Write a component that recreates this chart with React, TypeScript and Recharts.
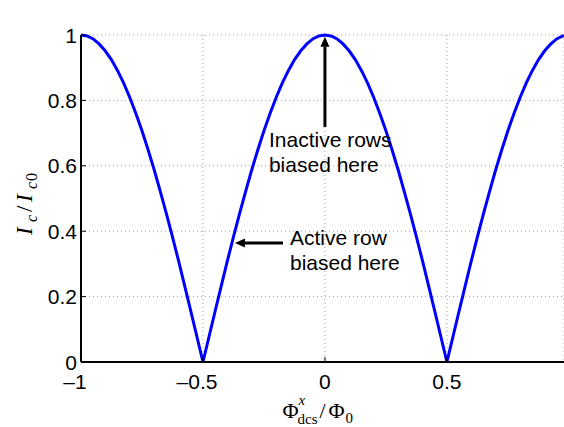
import React from 'react';
import { LineChart, Line, XAxis, YAxis, CartesianGrid, ReferenceLine } from 'recharts';

// Flux values (Phi_dcs^x / Phi_0) and normalised critical current
const fluxValues = [
  -1, -0.975, -0.95, -0.925, -0.9, -0.875, -0.85, -0.825, -0.8, -0.775,
  -0.75, -0.725, -0.7, -0.675, -0.65, -0.625, -0.6, -0.575, -0.55, -0.525,
  -0.5, -0.475, -0.45, -0.425, -0.4, -0.375, -0.35, -0.325, -0.3, -0.275,
  -0.25, -0.225, -0.2, -0.175, -0.15, -0.125, -0.1, -0.075, -0.05, -0.025,
  0, 0.025, 0.05, 0.075, 0.1, 0.125, 0.15, 0.175, 0.2, 0.225,
  0.25, 0.275, 0.3, 0.325, 0.35, 0.375, 0.4, 0.425, 0.45, 0.475,
  0.5, 0.525, 0.55, 0.575, 0.6, 0.625, 0.65, 0.675, 0.7, 0.725,
  0.75, 0.775, 0.8, 0.825, 0.85, 0.875, 0.9, 0.925, 0.95, 0.975, 0.98,
];
const currentValues = [
  1, 0.997, 0.988, 0.972, 0.951, 0.924, 0.891, 0.853, 0.809, 0.76,
  0.707, 0.649, 0.588, 0.522, 0.454, 0.383, 0.309, 0.233, 0.156, 0.078,
  0, 0.078, 0.156, 0.233, 0.309, 0.383, 0.454, 0.522, 0.588, 0.649,
  0.707, 0.76, 0.809, 0.853, 0.891, 0.924, 0.951, 0.972, 0.988, 0.997,
  1, 0.997, 0.988, 0.972, 0.951, 0.924, 0.891, 0.853, 0.809, 0.76,
  0.707, 0.649, 0.588, 0.522, 0.454, 0.383, 0.309, 0.233, 0.156, 0.078,
  0, 0.078, 0.156, 0.233, 0.309, 0.383, 0.454, 0.522, 0.588, 0.649,
  0.707, 0.76, 0.809, 0.853, 0.891, 0.924, 0.951, 0.972, 0.988, 0.997, 0.998,
];
const xTicks = [-1, -0.5, 0, 0.5];
const yTicks = [0, 0.2, 0.4, 0.6, 0.8, 1];
const titleText = 'low β dc SQUID modulation curve';
const inactiveArrow = [{ x: 0, y: 0.719 }, { x: 0, y: 0.995 }];
const activeArrow = [{ x: -0.172, y: 0.364 }, { x: -0.369, y: 0.364 }];
const inactiveLabel = ['Inactive rows', 'biased here'];
const activeLabel = ['Active row', 'biased here'];

const data = fluxValues.map((x, i) => ({ x, ic: currentValues[i] }));

const SANS = '"Liberation Sans", Arial, Helvetica, sans-serif';
const SERIF = '"Liberation Serif", "Times New Roman", serif';

const XTick = (props: any) => {
  const { x, y, payload } = props;
  const v = payload.value as number;
  const label = v < 0 ? '–' + String(Math.abs(v)) : String(v);
  return (
    <g>
      <line x1={x} y1={y} x2={x} y2={y - 5} stroke="#000" strokeWidth={1} />
      <text x={x + (v < 0 ? -6 : 0)} y={y + 27} textAnchor="middle" fontFamily={SANS} fontSize={21} fill="#000">
        {label}
      </text>
    </g>
  );
};

const YTick = (props: any) => {
  const { x, y, payload } = props;
  return (
    <g>
      <line x1={x} y1={y} x2={x + 5} y2={y} stroke="#000" strokeWidth={1} />
      <text x={x - 4} y={y + 7.5} textAnchor="end" fontFamily={SANS} fontSize={21} fill="#000">
        {String(payload.value)}
      </text>
    </g>
  );
};

const Arrow = (lines: string[], textDx: number, textDy: number) => (props: any) => {
  const { x1, y1, x2, y2 } = props;
  const dx = x2 - x1;
  const dy = y2 - y1;
  const len = Math.sqrt(dx * dx + dy * dy) || 1;
  const ux = dx / len;
  const uy = dy / len;
  const headL = 10;
  const headW = 4.5;
  const bx = x2 - ux * headL;
  const by = y2 - uy * headL;
  const px = -uy;
  const py = ux;
  return (
    <g>
      <line x1={x1} y1={y1} x2={bx} y2={by} stroke="#000" strokeWidth={3} />
      <polygon
        points={`${x2},${y2} ${bx + px * headW},${by + py * headW} ${bx - px * headW},${by - py * headW}`}
        fill="#000"
      />
      {lines.map((t, i) => (
        <text key={i} x={x1 + textDx} y={y1 + textDy + i * 25} fontFamily={SANS} fontSize={21} fill="#000">
          {t}
        </text>
      ))}
    </g>
  );
};

const XLabel = (props: any) => {
  const vb = props.viewBox || { x: 81, width: 483 };
  const sx = vb.x + vb.width / 2 - 40;
  return (
    <g fontFamily={SERIF} fill="#000">
      <text x={sx} y={418} fontSize={22}>Φ</text>
      <text x={sx + 16} y={405} fontSize={15} fontStyle="italic">x</text>
      <text x={sx + 15} y={424} fontSize={15}>dcs</text>
      <text x={sx + 37} y={418} fontSize={22}>/</text>
      <text x={sx + 46} y={418} fontSize={22}>Φ</text>
      <text x={sx + 63} y={423} fontSize={15}>0</text>
    </g>
  );
};

const YLabel = () => (
  <g transform="translate(32,235) rotate(-90)" fontFamily={SERIF} fill="#000">
    <text x={0} y={0} fontSize={23} fontStyle="italic">I</text>
    <text x={13} y={5} fontSize={16} fontStyle="italic">c</text>
    <text x={23} y={0} fontSize={23}>/</text>
    <text x={33} y={0} fontSize={23} fontStyle="italic">I</text>
    <text x={46} y={5} fontSize={16} fontStyle="italic">c</text>
    <text x={54} y={5} fontSize={16}>0</text>
  </g>
);

const TitleLabel = () => (
  <text x={325} y={19} textAnchor="middle" fontFamily={SANS} fontSize={18} fill="#000">
    {titleText}
  </text>
);

export default function App() {
  return (
    <div style={{ position: 'absolute', left: 0, top: 0, width: 564, height: 427, background: '#fff' }}>
      <LineChart width={564} height={427} data={data} margin={{ top: 35, right: 0, bottom: 0, left: 0 }}>
        <CartesianGrid stroke="#a0a0a0" strokeDasharray="1 3" strokeWidth={1} />
        <XAxis
          dataKey="x"
          type="number"
          domain={[-1, 0.98]}
          ticks={xTicks}
          allowDataOverflow
          height={65}
          tickLine={false}
          tickSize={0}
          tickMargin={0}
          axisLine={{ stroke: '#000', strokeWidth: 2 }}
          tick={<XTick />}
          interval={0}
          label={{ content: <XLabel /> }}
        />
        <XAxis
          xAxisId="top"
          dataKey="x"
          type="number"
          orientation="top"
          domain={[-1, 0.98]}
          allowDataOverflow
          height={0}
          tick={false}
          tickLine={false}
          axisLine={{ stroke: '#000', strokeWidth: 2 }}
          label={{ content: <TitleLabel /> }}
        />
        <YAxis
          type="number"
          domain={[0, 1]}
          ticks={yTicks}
          width={81}
          tickLine={false}
          tickSize={0}
          tickMargin={0}
          axisLine={{ stroke: '#000', strokeWidth: 2 }}
          tick={<YTick />}
          interval={0}
          label={{ content: <YLabel /> }}
        />
        <Line
          type="linear"
          dataKey="ic"
          stroke="#0000ff"
          strokeWidth={3}
          dot={false}
          activeDot={false}
          isAnimationActive={false}
        />
        <ReferenceLine segment={inactiveArrow} shape={Arrow(inactiveLabel, -56, 20)} ifOverflow="visible" />
        <ReferenceLine segment={activeArrow} shape={Arrow(activeLabel, 7, 2)} ifOverflow="visible" />
      </LineChart>
    </div>
  );
}
